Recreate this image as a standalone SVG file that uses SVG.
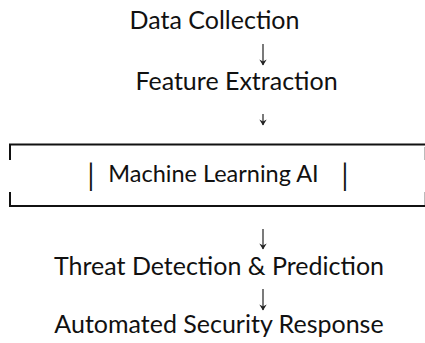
<svg xmlns="http://www.w3.org/2000/svg" width="425" height="343" viewBox="0 0 425 343">
  <style>
    .label { font-family: Lato, "Open Sans", "Liberation Sans", sans-serif; font-size: 25px; fill: #111; text-anchor: middle; }
    .bar { font-family: "DejaVu Sans", sans-serif; font-size: 24px; fill: #111; text-anchor: middle; }
    .frame { stroke: #111; stroke-width: 2; fill: none; }
    .edge { stroke: #222; stroke-width: 1.2; fill: none; marker-end: url(#head); }
  </style>
  <defs>
    <!-- small barbed arrowhead, drawn pointing along +x so orient="auto" turns it downward -->
    <marker id="head" viewBox="0 0 8 8" refX="7" refY="4" markerWidth="8" markerHeight="8" markerUnits="userSpaceOnUse" orient="auto">
      <path d="M1.5,0.3 L7.5,4 L1.5,7.7 L3.5,4 Z" fill="#222"/>
    </marker>
  </defs>
  <rect width="425" height="343" fill="#fff"/>

  <g id="connectors">
    <line class="edge" x1="263" y1="44" x2="263" y2="65"/>
    <line class="edge" x1="263" y1="114" x2="263" y2="125"/>
    <line class="edge" x1="263" y1="229" x2="263" y2="249"/>
    <line class="edge" x1="263" y1="289" x2="263" y2="310"/>
  </g>

  <g id="data-collection">
    <text class="label" x="214.5" y="29">Data Collection</text>
  </g>

  <g id="feature-extraction">
    <text class="label" x="236.5" y="90">Feature Extraction</text>
  </g>

  <g id="machine-learning">
    <!-- open-sided frame: top and bottom rules with short corner ticks -->
    <path class="frame" d="M10,160 V144.5 H425 M10,192 V206 H425"/>
    <path d="M424.5,147 V160 M424.5,192 V205" stroke="#bbb" stroke-width="1" fill="none"/>
    <text class="bar" x="91" y="185">│</text>
    <text class="label" x="213.5" y="182" style="font-size:23.5px">Machine Learning AI</text>
    <text class="bar" x="345" y="185">│</text>
  </g>

  <g id="threat-detection">
    <text class="label" x="219" y="275">Threat Detection &amp; Prediction</text>
  </g>

  <g id="security-response">
    <text class="label" x="219" y="333">Automated Security Response</text>
  </g>
</svg>
